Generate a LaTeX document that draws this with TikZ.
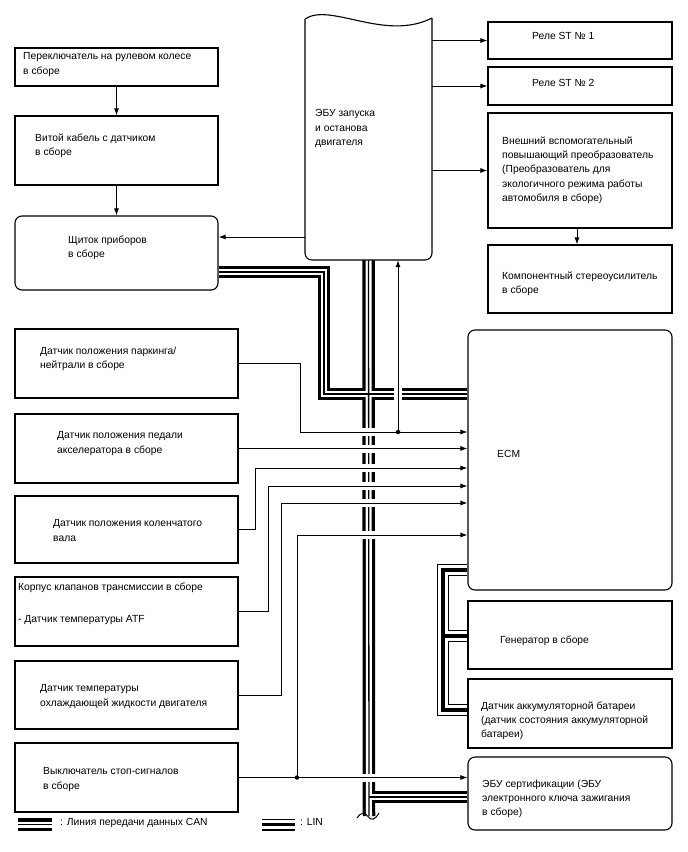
\documentclass[tikz,border=0pt]{standalone}
\usepackage{fontspec}
\setmainfont{Liberation Sans}
\usetikzlibrary{arrows.meta,backgrounds}
\begin{document}
\begin{tikzpicture}[x=1pt,y=-1pt,
  box/.style={draw, line width=1.1pt, fill=white, inner sep=0pt},
  rbox/.style={box, rounded corners=7pt},
  txt/.style={inner sep=0pt, anchor=north west, align=left, font=\fontsize{10.3}{14.3}\selectfont},
  arr/.style={-{Latex[length=7pt,width=5pt]}, line width=0.9pt},
  sig/.style={line width=0.9pt},
  busgap/.style={draw=white, line width=8pt},
  dot/.style={circle, fill=black, inner sep=0pt, minimum size=4.5pt}
]
\useasboundingbox (0,0) rectangle (688,852);

% ---- boxes ----
\node[box, minimum width=203pt, minimum height=38pt] (steer) at (116.5,67) {};
\node[box, minimum width=203pt, minimum height=69pt] (twist) at (116.5,150.5) {};
\node[rbox, minimum width=203pt, minimum height=74pt] (dash) at (116.5,253) {};
\node[box, minimum width=184pt, minimum height=37pt] (r1) at (580,40.5) {};
\node[box, minimum width=184pt, minimum height=38pt] (r2) at (580,86) {};
\node[box, minimum width=184pt, minimum height=115pt] (boost) at (580,170.5) {};
\node[box, minimum width=184pt, minimum height=68pt] (amp) at (580,279) {};
\node[rbox, minimum width=204pt, minimum height=260pt] (ecm) at (570,460) {};
\node[box, minimum width=204pt, minimum height=68pt] (gen) at (570,635) {};
\node[box, minimum width=204pt, minimum height=69pt] (batt) at (570,713.5) {};
\node[rbox, minimum width=204pt, minimum height=73pt] (cert) at (570,793.5) {};
\node[box, minimum width=223pt, minimum height=69pt] (pn) at (126.5,363.5) {};
\node[box, minimum width=223pt, minimum height=69pt] (acc) at (126.5,448.5) {};
\node[box, minimum width=223pt, minimum height=67pt] (crank) at (126.5,529.5) {};
\node[box, minimum width=223pt, minimum height=69pt] (trans) at (126.5,611.5) {};
\node[box, minimum width=223pt, minimum height=68pt] (cool) at (126.5,695) {};
\node[box, minimum width=223pt, minimum height=69pt] (stop) at (126.5,777.5) {};

% ECU (document-like shape)
\node[inner sep=0pt, minimum width=127pt, minimum height=242pt] (ecu) at (368.5,139) {};
\fill[white] (305,19) -- (305,260) -- (432,260) -- (432,18) .. controls (385,42) and (330,2) .. (305,19);
\draw[line width=1.1pt, rounded corners=7pt] (305,19) -- (305,260) -- (432,260) -- (432,18);
\draw[line width=1.1pt] (305,19) .. controls (330,2) and (385,42) .. (432,18);

% ---- buses (behind) ----
\begin{scope}[on background layer]
\foreach \w/\c in {12.5/black,6/white,1.3/black}{
  \draw[line width=\w pt, draw=\c] (ecu.south) -- (369,816);
  \draw[line width=\w pt, draw=\c] (dash.east |- 0,272) -- (324,272) -- (324,394) -- (ecm.west |- 0,394);
  \draw[line width=\w pt, draw=\c] (369,797) -- (cert.west |- 0,797);
  \draw[line width=\w pt, draw=\c] (18,824.5) -- (52,824.5);
}
\foreach \w/\c in {12/black,9.4/white,3.2/black}{
  \draw[line width=\w pt, draw=\c] (ecm.west |- 0,570) -- (443,570) -- (443,710) -- (batt.west |- 0,710);
  \draw[line width=\w pt, draw=\c] (443,636) -- (gen.west |- 0,636);
  \draw[line width=\w pt, draw=\c] (262,824.5) -- (295,824.5);
}
\end{scope}
% gaps where signal lines cross the CAN bus
\foreach \yy in {432,448.5,468,486,503,535,777.5}{
  \draw[busgap] (360,\yy) -- (378,\yy);
}
\draw[busgap] (398,385) -- (398,403);
% bus break mark
\draw[line width=1pt] (357,818) .. controls (361,812) and (365,812) .. (368,816.5) .. controls (371,821) and (375,820) .. (379,813);

% ---- signal connectors ----
\draw[arr] (steer.south) -- (twist.north);
\draw[arr] (twist.south) -- (dash.north);
\coordinate (eculeft) at (305,237);
\draw[arr] (eculeft) -- (eculeft -| dash.east);
\draw[arr] (ecu.east |- r1.west) -- (r1.west);
\draw[arr] (ecu.east |- r2.west) -- (r2.west);
\draw[arr] (ecu.east |- boost.west) -- (boost.west);
\draw[arr] (boost.south -| 577,0) -- (amp.north -| 577,0);

\node[dot] (pnj) at (398,432) {};
\draw[sig] (pn.east) -| (300,432) -- (pnj.center);
\draw[arr] (pnj.center) -- (ecm.west |- 0,432);
\draw[arr] (pnj.center) -- (pnj |- ecu.south);
\draw[arr] (acc.east) -- (ecm.west |- acc.east);
\draw[arr] (crank.east) -| (255,468) -- (ecm.west |- 0,468);
\draw[arr] (trans.east) -| (268,486) -- (ecm.west |- 0,486);
\draw[arr] (cool.east) -| (281,503) -- (ecm.west |- 0,503);
\node[dot] (stj) at (297,777.5) {};
\draw[sig] (stop.east) -- (stj.center);
\draw[arr] (stj.center) -- (297,535) -- (ecm.west |- 0,535);
\draw[arr] (stj.center) -- (cert.west |- stj.center);

% ---- texts ----
\node[txt] (tsteer) at (23,52.5) {Переключатель на рулевом колесе\\в сборе};
\node[txt] (ttwist) at (35,133.5) {Витой кабель с датчиком\\в сборе};
\node[txt] (tdash) at (68,235.5) {Щиток приборов\\в сборе};
\node[txt] (tecu) at (315,109.5) {ЭБУ запуска\\и останова\\двигателя};
\node[txt] (tr1) at (532,32.5) {Реле ST № 1};
\node[txt] (tr2) at (532,79.5) {Реле ST № 2};
\node[txt] (tboost) at (502,136.5) {Внешний вспомогательный\\повышающий преобразователь\\(Преобразователь для\\экологичного режима работы\\автомобиля в сборе)};
\node[txt] (tamp) at (502,271.5) {Компонентный стереоусилитель\\в сборе};
\node[txt] (tecm) at (497,450.5) {ECM};
\node[txt] (tgen) at (500,635.5) {Генератор в сборе};
\node[txt] (tbatt) at (481,701.5) {Датчик аккумуляторной батареи\\(датчик состояния аккумуляторной\\батареи)};
\node[txt] (tcert) at (482,779.5) {ЭБУ сертификации (ЭБУ\\электронного ключа зажигания\\в сборе)};
\node[txt] (tpn) at (40,346.5) {Датчик положения паркинга/\\нейтрали в сборе};
\node[txt] (tacc) at (57,431.5) {Датчик положения педали\\акселератора в сборе};
\node[txt] (tcrank) at (53,519.5) {Датчик положения коленчатого\\вала};
\node[txt] (ttrans) at (18,582.5) {Корпус клапанов трансмиссии в сборе\\[17.7pt]- Датчик температуры ATF};
\node[txt] (tcool) at (40,684.5) {Датчик температуры\\охлаждающей жидкости двигателя};
\node[txt] (tstop) at (43,767.5) {Выключатель стоп-сигналов\\в сборе};
\node[txt] (lcan) at (60,818.5) {: Линия передачи данных CAN};
\node[txt] (llin) at (300,818.5) {: LIN};
\end{tikzpicture}
\end{document}
